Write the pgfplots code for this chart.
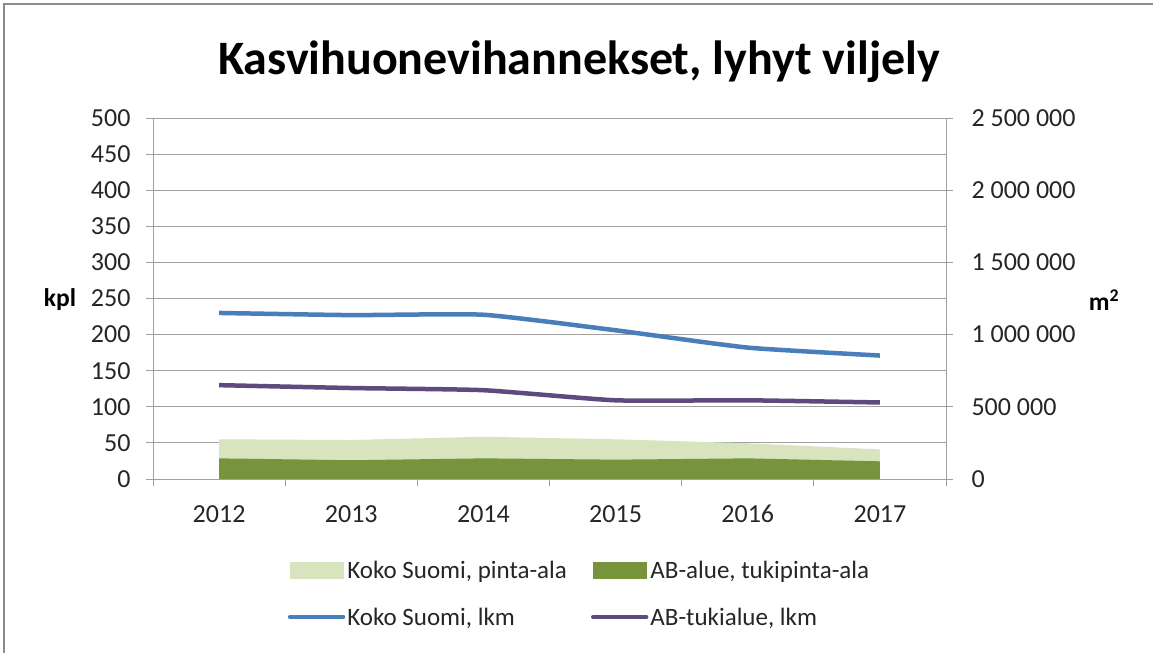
\documentclass[border=0pt]{standalone}
\usepackage{fontspec}
\setmainfont{Carlito}
\usepackage{pgfplots}
\pgfplotsset{compat=1.18}
\definecolor{lgreen}{HTML}{D7E4BD}
\definecolor{dgreen}{HTML}{77933C}
\definecolor{lblue}{HTML}{4A7EBB}
\definecolor{lpurple}{HTML}{5E4A7C}
\definecolor{gridc}{HTML}{A0A0A0}
\pgfplotsset{
  myax/.style={
    scale only axis, width=793bp, height=361bp,
    at={(153bp,-479bp)}, anchor=south west,
    xmin=-0.5, xmax=5.5,
    /pgf/number format/assume math mode=true,
    scaled y ticks=false,
    tick label style={font=\fontsize{26bp}{30bp}\selectfont, text=black!85},
    axis line style={draw=gridc, line width=1bp},
    tick style={draw=gridc, line width=1bp},
    tick align=outside,
    major tick length=7bp,
  }
}
\begin{document}
\begin{tikzpicture}[x=1bp,y=1bp]
\useasboundingbox (0,0) rectangle (1153,-653);
\fill[white] (0,0) rectangle (1153,-653);
\draw[black!45, line width=2bp] (1153,-4) -- (4,-4) -- (4,-653);
\node[font=\fontsize{48bp}{54bp}\selectfont\bfseries] at (579,-62) {Kasvihuonevihannekset, lyhyt viljely};
\node[font=\fontsize{25.5bp}{30bp}\selectfont\bfseries] at (60,-300) {kpl};
\node[font=\fontsize{25.5bp}{30bp}\selectfont\bfseries] at (1104,-300) {m\textsuperscript{2}};
% axis 1: left axis, grid, x axis
\begin{axis}[myax,
  ymin=0, ymax=500,
  axis x line*=bottom, axis y line*=left,
  ytick={0,50,...,500},
  yticklabel style={xshift=-12bp},
  ymajorgrids, grid style={draw=gridc, line width=1bp},
  xtick={0,...,5}, xticklabels={2012,2013,2014,2015,2016,2017},
  xtick style={draw=none},
  minor xtick={-0.5,0.5,...,5.5},
  minor x tick style={draw=gridc, line width=1bp},
  minor tick length=7bp,
  xticklabel style={yshift=-15bp, text height=18bp, text depth=0bp},
]
\addplot[draw=none] coordinates {(0,0)};
\end{axis}
% axis 2: right axis, areas
\begin{axis}[myax,
  ymin=0, ymax=2500000,
  axis x line=none, axis y line*=right,
  ytick={0,500000,1000000,1500000,2000000,2500000},
  yticklabels={0,500 000,1 000 000,1 500 000,2 000 000,2 500 000},
  yticklabel style={xshift=15bp},
]
\addplot[fill=lgreen, draw=none] coordinates {(0,275000) (1,270000) (2,292500) (3,275000) (4,247500) (5,205000)} \closedcycle;
\addplot[fill=dgreen, draw=none] coordinates {(0,143000) (1,130000) (2,143000) (3,134000) (4,143000) (5,122500)} \closedcycle;
\end{axis}
% axis 3: lines + legend
\begin{axis}[myax,
  ymin=0, ymax=500, hide axis,
  legend columns=2,
  legend cell align=left,
  legend style={at={(0.166,-0.215)}, anchor=north west, draw=none, fill=none,
    font=\fontsize{25bp}{30bp}\selectfont, text=black!85,
    row sep=24bp,
    /tikz/every even column/.append style={column sep=22bp}},
]
\addlegendimage{legend image code/.code={\fill[lgreen] (0bp,-8bp) rectangle (53bp,8bp);}}
\addlegendentry{Koko Suomi, pinta-ala}
\addlegendimage{legend image code/.code={\fill[dgreen] (0bp,-8bp) rectangle (53bp,8bp);}}
\addlegendentry{AB-alue, tukipinta-ala}
\addplot[lblue, line width=4.5bp, smooth, tension=0.3,
  legend image code/.code={\draw[lblue, line width=4.5bp, line cap=round] (0bp,0bp) -- (53bp,0bp);}]
  coordinates {(0,230) (1,227) (2,227.5) (3,206) (4,182) (5,171)};
\addlegendentry{Koko Suomi, lkm}
\addplot[lpurple, line width=4.5bp, smooth, tension=0.3,
  legend image code/.code={\draw[lpurple, line width=4.5bp, line cap=round] (0bp,0bp) -- (53bp,0bp);}]
  coordinates {(0,130) (1,126) (2,123) (3,109) (4,109) (5,106)};
\addlegendentry{AB-tukialue, lkm}
\end{axis}
\end{tikzpicture}
\end{document}
